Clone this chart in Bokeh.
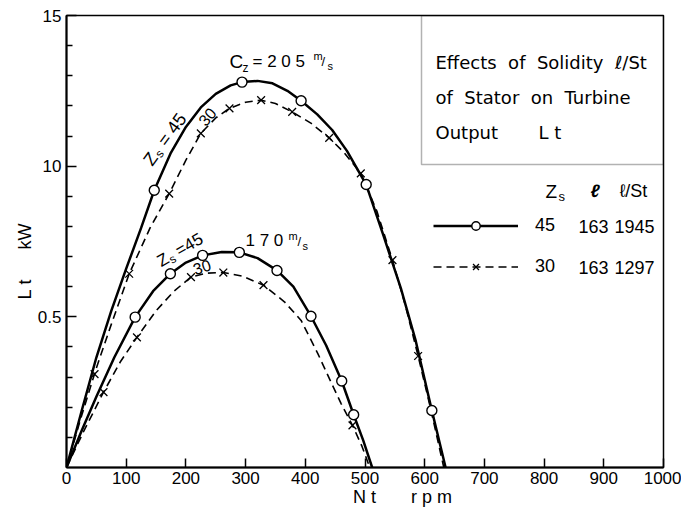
import math
from bokeh.plotting import figure
from bokeh.models import FixedTicker, Label, BoxAnnotation, Legend, LegendItem
from bokeh.embed import file_html
from bokeh.resources import INLINE

# ---------------- data ----------------
# Cz = 205 m/s, Zs = 45 (solid curve)
rpm_205_45_curve = [0, 25, 50, 75, 100, 125, 147, 175, 200, 225, 250, 275, 294, 320, 345, 370, 393, 420, 445, 470, 502, 530, 560, 585, 612, 635]
kw_205_45_curve = [0, 1.85, 3.65, 5.2, 6.6, 7.95, 9.2, 10.45, 11.3, 11.95, 12.4, 12.68, 12.79, 12.83, 12.75, 12.5, 12.17, 11.72, 11.2, 10.5, 9.39, 7.75, 5.95, 4.2, 1.89, 0]
rpm_205_45_pts = [147, 294, 393, 502, 612]
kw_205_45_pts = [9.2, 12.79, 12.17, 9.39, 1.89]

# Cz = 205 m/s, Zs = 30 (dashed curve)
rpm_205_30_curve = [0, 25, 50, 75, 105, 140, 172, 200, 225, 250, 273, 300, 326, 350, 378, 410, 440, 465, 493, 520, 546, 568, 589, 610, 632]
kw_205_30_curve = [0, 1.7, 3.3, 4.75, 6.43, 7.95, 9.09, 10.2, 11.09, 11.6, 11.92, 12.12, 12.19, 12.08, 11.8, 11.42, 10.94, 10.45, 9.76, 8.5, 6.88, 5.35, 3.7, 1.95, 0]
rpm_205_30_pts = [47, 105, 172, 225, 273, 326, 378, 440, 493, 546, 589]
kw_205_30_pts = [3.1, 6.43, 9.09, 11.09, 11.92, 12.19, 11.8, 10.94, 9.76, 6.88, 3.7]

# Cz = 170 m/s, Zs = 45 (solid curve)
rpm_170_45_curve = [0, 25, 50, 80, 115, 145, 174, 200, 228, 260, 289.5, 320, 352.6, 380, 409.5, 435, 461, 481, 497, 512]
kw_170_45_curve = [0, 1.2, 2.35, 3.65, 4.99, 5.85, 6.43, 6.8, 7.04, 7.15, 7.14, 6.95, 6.54, 6.0, 5.02, 4.05, 2.87, 1.75, 0.9, 0]
rpm_170_45_pts = [115, 174, 228, 289.5, 352.6, 409.5, 461, 481]
kw_170_45_pts = [4.99, 6.43, 7.04, 7.14, 6.54, 5.02, 2.87, 1.75]

# Cz = 170 m/s, Zs = 30 (dashed curve)
rpm_170_30_curve = [0, 30, 62, 90, 118, 150, 180, 208.5, 235, 262.7, 295, 330, 365, 393, 421, 445, 460, 479, 495, 508]
kw_170_30_curve = [0, 1.25, 2.5, 3.5, 4.32, 5.2, 5.85, 6.32, 6.45, 6.47, 6.35, 6.05, 5.5, 4.88, 3.78, 2.75, 2.12, 1.4, 0.7, 0]
rpm_170_30_pts = [62, 118, 208.5, 262.7, 330, 479]
kw_170_30_pts = [2.5, 4.32, 6.32, 6.47, 6.05, 1.4]

x_ticks = [0, 100, 200, 300, 400, 500, 600, 700, 800, 900, 1000]
y_ticks = [5, 10, 15]
y_tick_labels = ["0.5", "10", "15"]
y_minor = [1, 2, 3, 4, 6, 7, 8, 9, 11, 12, 13, 14]

legend_rows = [("45", "163", "1945"), ("30", "163", "1297")]

# ---------------- figure ----------------
FONT = "Liberation Sans"
BOXFONT = "DejaVu Sans"
NB = "\u00a0"
W, H = 681, 511
L, R, T, B = 66, 18, 15, 44
XMAX, YMAX = 1000.0, 15.0
FW, FH = W - L - R, H - T - B

p = figure(width=W, height=H, x_range=(0, XMAX), y_range=(0, YMAX),
           output_backend="svg", toolbar_location=None,
           min_border_left=L, min_border_right=R, min_border_top=T, min_border_bottom=B)
p.xgrid.visible = False
p.ygrid.visible = False
p.outline_line_color = "black"
p.outline_line_width = 1.5
p.background_fill_color = "white"
p.border_fill_color = "white"

for ax in (p.xaxis[0], p.yaxis[0]):
    ax.axis_line_width = 2
    ax.axis_line_color = "black"
    ax.major_tick_line_color = "black"
    ax.major_tick_line_width = 1.5
    ax.minor_tick_line_color = "black"
    ax.minor_tick_line_width = 1.3
    ax.major_tick_out = 0
    ax.minor_tick_out = 0
    ax.major_label_text_font = FONT
    ax.major_label_text_font_size = "17px"
    ax.major_label_text_color = "black"
    ax.axis_label_text_font = FONT
    ax.axis_label_text_font_size = "18px"
    ax.axis_label_text_font_style = "normal"
    ax.axis_label_text_color = "black"
    ax.axis_label_standoff = 0

p.xaxis[0].ticker = FixedTicker(ticks=x_ticks)
p.xaxis[0].major_tick_in = 9
p.xaxis[0].major_label_standoff = 4
p.xaxis[0].axis_label = NB * 15 + "N" + NB + "t" + NB * 7 + "r" + NB + "p" + NB + "m"
p.yaxis[0].ticker = FixedTicker(ticks=y_ticks, minor_ticks=y_minor)
p.yaxis[0].major_tick_in = 10
p.yaxis[0].minor_tick_in = 6
p.yaxis[0].major_label_standoff = 5
p.yaxis[0].major_label_overrides = {t: s for t, s in zip(y_ticks, y_tick_labels)}
p.yaxis[0].axis_label = "L" + NB + "t" + NB * 6 + "kW" + NB * 8


def fx(px):
    return (px - L) * XMAX / FW


def fy(py):
    return (H - B - py) * YMAX / FH


def lab(px, py, text, size=17, angle=0.0, align="left", baseline="middle",
        style="normal", font=FONT):
    p.add_layout(Label(x=fx(px), y=fy(py), text=text, text_font=font,
                       text_font_size=f"{size}px", text_align=align,
                       text_baseline=baseline, angle=angle, text_color="black",
                       text_font_style=style))


# ---------------- curves ----------------
solid = dict(line_color="black", line_width=2.5)
dashed = dict(line_color="black", line_width=1.6, line_dash="8 5")
circ = dict(marker="circle", size=10, fill_color="white", line_color="black", line_width=1.4)
cross = dict(marker="x", size=11, line_color="black", line_width=1.3)

r_l45 = p.line(rpm_205_45_curve, kw_205_45_curve, **solid)
r_l30 = p.line(rpm_205_30_curve, kw_205_30_curve, **dashed)
p.line(rpm_170_45_curve, kw_170_45_curve, **solid)
p.line(rpm_170_30_curve, kw_170_30_curve, **dashed)
r_s30 = p.scatter(rpm_205_30_pts, kw_205_30_pts, **cross)
p.scatter(rpm_170_30_pts, kw_170_30_pts, **cross)
r_s45 = p.scatter(rpm_205_45_pts, kw_205_45_pts, **circ)
p.scatter(rpm_170_45_pts, kw_170_45_pts, **circ)

# ---------------- title box ----------------
p.add_layout(BoxAnnotation(left=fx(421), right=XMAX, bottom=fy(164), top=YMAX,
                           fill_alpha=0, line_color="black", line_width=1.5))
lab(435, 62, "Effects" + NB * 2 + "of" + NB * 2 + "Solidity" + NB * 2 + "\u2113/St", 18, font=BOXFONT)
lab(435, 97, "of" + NB * 2 + "Stator" + NB * 2 + "on" + NB * 2 + "Turbine", 18, font=BOXFONT)
lab(435, 132, "Output", 18, font=BOXFONT)
lab(538, 132, "L" + NB + "t", 18, font=BOXFONT)

# ---------------- legend ----------------
leg = Legend(items=[LegendItem(label=legend_rows[0][0], renderers=[r_l45, r_s45]),
                    LegendItem(label=legend_rows[1][0], renderers=[r_l30, r_s30])],
             location=(433 - L, H - B - 267 - 10), orientation="vertical",
             glyph_width=85, glyph_height=21, label_height=21, label_width=20,
             spacing=20, padding=0, margin=0, label_standoff=17,
             border_line_alpha=0, background_fill_alpha=0,
             label_text_font=FONT, label_text_font_size="18px",
             label_text_color="black")
p.add_layout(leg)
lab(545, 191, "Z", 19)
lab(558, 196, "s", 13)
lab(590, 190, "\u2113", 18, style="bold italic")
lab(619, 190, "\u2113/St", 18)
for (a, b, c), py in zip(legend_rows, [226, 267]):
    lab(578, py, b, 18)
    lab(614, py, c, 18)

# ---------------- curve annotations ----------------
lab(229, 61, "C", 19)
lab(242, 67, "z", 12)
lab(252, 61, "= 2 0 5", 17)
lab(313, 55, "m", 11)
lab(321, 61, "/", 13)
lab(327, 65, "s", 11)

lab(245, 240, "1 7 0", 17)
lab(288, 235, "m", 11)
lab(297, 241, "/", 13)
lab(302, 245, "s", 11)


def rot_text(x0, y0, deg, pieces):
    a = math.radians(deg)
    d = (math.cos(a), -math.sin(a))
    n = (math.sin(a), math.cos(a))
    for along, down, txt, size in pieces:
        px = x0 + along * d[0] + down * n[0]
        py = y0 + along * d[1] + down * n[1]
        lab(px, py, txt, size, angle=a)


rot_text(147, 163, 54, [(0, 0, "Z", 18), (12, 4, "s", 12), (24, 0, "= 45", 18)])
rot_text(158, 262, 30, [(0, 0, "Z", 17), (11, 4, "s", 12), (21, 0, "=45", 17)])
rot_text(201, 123, 50, [(0, 0, "30", 16)])
rot_text(193, 269, 18, [(0, 0, "30", 16)])

open("out.html", "w").write(file_html(p, INLINE))
